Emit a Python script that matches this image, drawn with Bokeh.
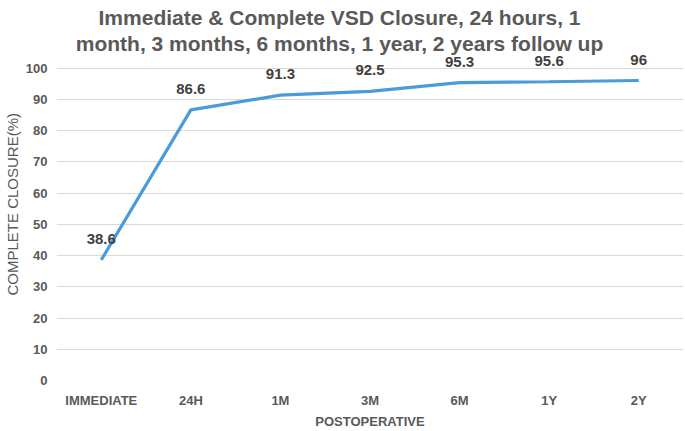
from math import pi
from bokeh.plotting import figure
from bokeh.core.properties import value
from bokeh.models import ColumnDataSource, LabelSet, Label, Title, FixedTicker, FactorRange, Range1d
from bokeh.embed import file_html
from bokeh.resources import INLINE

categories = ["IMMEDIATE", "24H", "1M", "3M", "6M", "1Y", "2Y"]
closure = [38.6, 86.6, 91.3, 92.5, 95.3, 95.6, 96]
value_labels = ["38.6", "86.6", "91.3", "92.5", "95.3", "95.6", "96"]
y_ticks = [0, 10, 20, 30, 40, 50, 60, 70, 80, 90, 100]
title_lines = ["Immediate & Complete VSD Closure, 24 hours, 1",
               "month, 3 months, 6 months, 1 year, 2 years follow up"]
x_title = "POSTOPERATIVE"
y_title = "COMPLETE CLOSURE(%)"

FONT = "Liberation Sans"
GREY = "#595959"
W, H = 685, 431

src = ColumnDataSource(dict(cat=categories, val=closure, lbl=value_labels))

p = figure(width=W, height=H, title=None,
           x_range=FactorRange(*categories, range_padding=0),
           y_range=Range1d(0, 121.6),
           output_backend="svg", toolbar_location=None,
           min_border_left=53, min_border_right=2,
           min_border_top=0, min_border_bottom=48)
p.outline_line_color = None
p.background_fill_color = "white"

p.line("cat", "val", source=src, line_color="#4a9bd9", line_width=3.2)

p.add_layout(LabelSet(x="cat", y="val", text="lbl", source=src, y_offset=21,
                      text_align="center", text_baseline="middle",
                      text_font=value(FONT), text_font_style="bold",
                      text_font_size="15px", text_color="#404040"))

for ax in (p.xaxis[0], p.yaxis[0]):
    ax.axis_line_color = None
    ax.major_tick_line_color = None
    ax.minor_tick_line_color = None
    ax.major_tick_out = 0
    ax.major_tick_in = 0
    ax.major_label_text_font = FONT
    ax.major_label_text_font_style = "bold"
    ax.major_label_text_font_size = "13px"
    ax.major_label_text_color = GREY

p.yaxis[0].ticker = FixedTicker(ticks=y_ticks)
p.yaxis[0].major_label_standoff = 9
p.xaxis[0].major_label_standoff = 12
p.xaxis[0].axis_label = x_title
p.xaxis[0].axis_label_standoff = 3
p.xaxis[0].axis_label_text_font = FONT
p.xaxis[0].axis_label_text_font_style = "bold"
p.xaxis[0].axis_label_text_font_size = "13px"
p.xaxis[0].axis_label_text_color = GREY
p.xgrid.grid_line_color = None
p.ygrid.grid_line_color = "#d9d9d9"
p.ygrid.grid_line_width = 1

p.add_layout(Title(text=y_title, align="left", offset=85, standoff=3,
                   text_font=FONT, text_font_style="normal", text_font_size="15px",
                   text_color=GREY), "left")

# chart title, drawn inside the (tall) frame area above the 100 gridline
for txt, yy in zip(title_lines, (17, 43)):
    p.add_layout(Label(x=339, y=yy, x_units="canvas", y_units="canvas", text=txt,
                       text_align="center", text_baseline="middle", text_font=FONT,
                       text_font_style="bold", text_font_size="21px", text_color=GREY))

open("out.html", "w").write(file_html(p, INLINE))
